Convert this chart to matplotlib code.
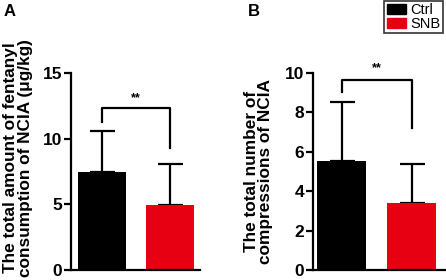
import matplotlib
matplotlib.use("Agg")
import matplotlib.pyplot as plt
from matplotlib.patches import Patch

plt.rcParams['font.family'] = ['Liberation Sans', 'DejaVu Sans']
plt.rcParams['font.weight'] = 'bold'

groups = ["Ctrl", "SNB"]
colors = ["#000000", "#e60012"]

# panel A: fentanyl consumption
a_mean = [7.45, 4.98]
a_err = [3.1, 3.1]
# panel B: number of compressions
b_mean = [5.55, 3.4]
b_err = [3.0, 2.0]

W, H = 446, 280
fig = plt.figure(figsize=(W / 100, H / 100), dpi=100)


def panel(rect, means, errs, ymax, step, ylabel, xlim, bracket, star_y, label_y):
    l, b, r, t = rect
    ax = fig.add_axes([l / W, (H - b) / H, (r - l) / W, (b - t) / H])
    x = [0, 1]
    ax.bar(x, means, width=0.7, color=colors, zorder=2)
    ax.errorbar(x, means, yerr=[[0, 0], errs], fmt="none", ecolor="black",
                elinewidth=1.6, capsize=9, capthick=1.6, zorder=1)
    y_top, y_l, y_r = bracket
    ax.plot([0, 0, 1, 1], [y_l, y_top, y_top, y_r], color="black", lw=1.6,
            clip_on=False)
    ax.text(0.5, star_y, "**", ha="center", va="center", fontsize=9,
            fontweight="bold")
    ax.set_xlim(*xlim)
    ax.set_ylim(0, ymax)
    ax.set_yticks(range(0, ymax + 1, step))
    ax.set_xticks([])
    for s in ["top", "right"]:
        ax.spines[s].set_visible(False)
    for s in ["left", "bottom"]:
        ax.spines[s].set_linewidth(1.6)
    ax.tick_params(axis="y", width=1.6, length=5, labelsize=12.5, pad=1.5)
    ax.set_ylabel(ylabel, fontsize=12.4, fontweight="bold", linespacing=0.95,
                  va="center")
    ax.yaxis.set_label_coords(-0.41, label_y)
    return ax


panel((71, 270, 200, 73), a_mean, a_err, 15, 5,
      "The total amount of fentanyl\nconsumption of NCIA (\u03bcg/kg)",
      (-0.456, 1.44), (12.3, 11.3, 9.3), 13.1, 0.57)
panel((313, 270, 446, 73), b_mean, b_err, 10, 2,
      "The total number of\ncompressions of NCIA",
      (-0.414, 1.486), (9.66, 9.04, 7.2), 10.25, 0.5)

fig.text(4 / W, 1 - 11 / H, "A", fontsize=12, fontweight="bold",
         ha="left", va="center")
fig.text(248 / W, 1 - 11 / H, "B", fontsize=12, fontweight="bold",
         ha="left", va="center")

handles = [Patch(facecolor=c, edgecolor=c) for c in colors]
leg = fig.legend(handles, groups, loc="upper right",
                 bbox_to_anchor=(443 / W, 1 - 1 / H),
                 fancybox=False, edgecolor="black",
                 prop={"weight": "normal", "size": 10.5},
                 handlelength=1.3, handleheight=0.6, handletextpad=0.35,
                 borderpad=0.15, labelspacing=0.0, borderaxespad=0.0)
leg.get_frame().set_linewidth(1.2)

fig.savefig("out.png", dpi=100)
